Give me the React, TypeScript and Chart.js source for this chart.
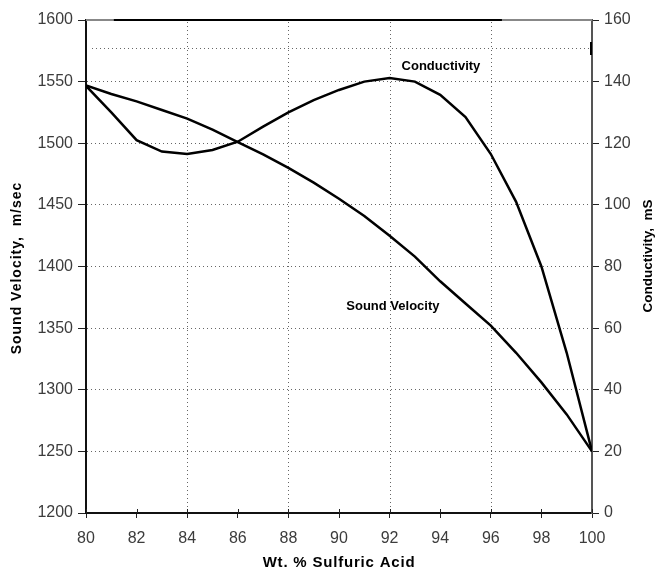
import React, { useEffect, useRef } from 'react';
import { Chart, registerables } from 'chart.js';

Chart.register(...registerables);

const wtPercent = [80, 81, 82, 83, 84, 85, 86, 87, 88, 89, 90, 91, 92, 93, 94, 95, 96, 97, 98, 99, 100];
const soundVelocity = [1547, 1540, 1534, 1527, 1520, 1511, 1501, 1491, 1480, 1468, 1455, 1441, 1425, 1408, 1388, 1370, 1352, 1330, 1306, 1280, 1250];
const conductivity = [138.6, 130, 121, 117.3, 116.5, 117.8, 120.5, 125.4, 130, 134, 137.3, 140, 141.2, 140, 135.7, 128.5, 116.5, 101, 80, 52, 20];

const xGridValues = [84, 88, 92, 96];

const xTitle = 'Wt. % Sulfuric Acid';
const yTitle = 'Sound Velocity,  m/sec';
const y1Title = 'Conductivity,  mS';
const labelConductivity = 'Conductivity';
const labelSound = 'Sound Velocity';

const FONT = '"Liberation Sans", Arial, Helvetica, sans-serif';
const TICK_COLOR = '#3c3c3c';

const decor = {
  id: 'decor',
  beforeDatasetsDraw(chart: any) {
    const { ctx, chartArea: a, scales } = chart;
    const y = scales.y;
    const x = scales.x;
    ctx.save();
    ctx.setLineDash([1, 3]);
    ctx.strokeStyle = '#666';
    ctx.lineWidth = 1;
    const gy = Math.round(y.getPixelForValue(1577)) + 0.5;
    ctx.beginPath();
    ctx.moveTo(a.left + 6, gy);
    ctx.lineTo(a.right, gy);
    ctx.stroke();
    xGridValues.forEach((v) => {
      const px = Math.round(x.getPixelForValue(v)) + 0.5;
      ctx.beginPath();
      ctx.moveTo(px, a.top + 2);
      ctx.lineTo(px, a.bottom);
      ctx.stroke();
    });
    ctx.restore();
  },
  afterDraw(chart: any) {
    const { ctx, chartArea: a, scales } = chart;
    const x = scales.x;
    ctx.save();
    ctx.strokeStyle = '#222';
    ctx.lineWidth = 1;
    x.ticks.forEach((t: any) => {
      const px = Math.round(x.getPixelForValue(t.value)) + 0.5;
      ctx.beginPath();
      ctx.moveTo(px, a.bottom - 4);
      ctx.lineTo(px, a.bottom);
      ctx.stroke();
    });
    const w = a.right - a.left;
    ctx.lineWidth = 2;
    ctx.strokeStyle = '#888';
    ctx.beginPath();
    ctx.moveTo(a.left, a.top);
    ctx.lineTo(a.right, a.top);
    ctx.stroke();
    ctx.strokeStyle = '#000';
    ctx.beginPath();
    ctx.moveTo(a.left + w * 0.055, a.top);
    ctx.lineTo(a.left + w * 0.822, a.top);
    ctx.stroke();
    ctx.beginPath();
    ctx.moveTo(a.right - 1, a.top + 22);
    ctx.lineTo(a.right - 1, a.top + 35);
    ctx.stroke();

    ctx.fillStyle = '#000';
    ctx.textAlign = 'center';
    ctx.textBaseline = 'middle';
    ctx.font = `bold 13px ${FONT}`;
    ctx.fillText(labelConductivity, x.getPixelForValue(94.03), scales.y.getPixelForValue(1562));
    ctx.fillText(labelSound, x.getPixelForValue(92.13), scales.y.getPixelForValue(1368));

    ctx.font = `bold 15px ${FONT}`;
    (ctx as any).letterSpacing = '0.8px';
    ctx.fillText(xTitle, (a.left + a.right) / 2, 563);

    ctx.save();
    ctx.translate(17, 268);
    ctx.rotate(-Math.PI / 2);
    ctx.font = `bold 14px ${FONT}`;
    (ctx as any).letterSpacing = '1px';
    ctx.fillText(yTitle, 0, 0);
    ctx.restore();

    ctx.save();
    ctx.translate(648, 256);
    ctx.rotate(-Math.PI / 2);
    ctx.font = `bold 13.5px ${FONT}`;
    (ctx as any).letterSpacing = '0px';
    ctx.fillText(y1Title, 0, 0);
    ctx.restore();

    ctx.restore();
  },
};

const plain = (v: any) => String(v);

export default function App() {
  const ref = useRef<HTMLCanvasElement | null>(null);

  useEffect(() => {
    if (!ref.current) return;
    const chart = new Chart(ref.current, {
      type: 'line',
      data: {
        datasets: [
          {
            label: 'Sound Velocity',
            data: wtPercent.map((w, i) => ({ x: w, y: soundVelocity[i] })),
            yAxisID: 'y',
            borderColor: '#000',
            borderWidth: 2.5,
            pointRadius: 0,
            tension: 0,
            fill: false,
          },
          {
            label: 'Conductivity',
            data: wtPercent.map((w, i) => ({ x: w, y: conductivity[i] })),
            yAxisID: 'y1',
            borderColor: '#000',
            borderWidth: 2.5,
            pointRadius: 0,
            tension: 0,
            fill: false,
          },
        ],
      },
      options: {
        responsive: false,
        animation: false,
        layout: { padding: { top: 20, left: 0, right: 0, bottom: 0 } },
        plugins: { legend: { display: false }, tooltip: { enabled: false } },
        scales: {
          x: {
            type: 'linear',
            min: 80,
            max: 100,
            afterFit: (s: any) => { s.height = 60; },
            ticks: {
              stepSize: 2,
              color: TICK_COLOR,
              font: { family: FONT, size: 16 },
              padding: 11,
              maxRotation: 0,
              callback: plain,
            },
            grid: {
              drawOnChartArea: false,
              tickColor: '#222',
              tickLength: 5,
            },
            border: { color: '#111', width: 2 },
          },
          y: {
            type: 'linear',
            position: 'left',
            min: 1200,
            max: 1600,
            afterFit: (s: any) => { s.width = 86; },
            ticks: {
              stepSize: 50,
              color: TICK_COLOR,
              font: { family: FONT, size: 16 },
              padding: 5,
              callback: plain,
            },
            grid: {
              color: (c: any) => {
                const v = c.tick ? c.tick.value : 0;
                return v > 1200 && v < 1600 ? '#666' : 'rgba(0,0,0,0)';
              },
              lineWidth: 1,
              tickColor: '#222',
              tickLength: 8,
            },
            border: { color: '#111', width: 2, dash: [1, 3] },
          },
          y1: {
            type: 'linear',
            position: 'right',
            min: 0,
            max: 160,
            afterFit: (s: any) => { s.width = 63; },
            ticks: {
              stepSize: 20,
              color: TICK_COLOR,
              font: { family: FONT, size: 16 },
              padding: 5,
              callback: plain,
            },
            grid: {
              drawOnChartArea: false,
              tickColor: '#222',
              tickLength: 7,
            },
            border: { color: '#555', width: 2 },
          },
        },
      },
      plugins: [decor],
    });
    return () => chart.destroy();
  }, []);

  return (
    <div style={{ position: 'absolute', left: 0, top: 0, width: 655, height: 573, background: '#fff' }}>
      <canvas ref={ref} width={655} height={573} style={{ display: 'block' }} />
    </div>
  );
}
